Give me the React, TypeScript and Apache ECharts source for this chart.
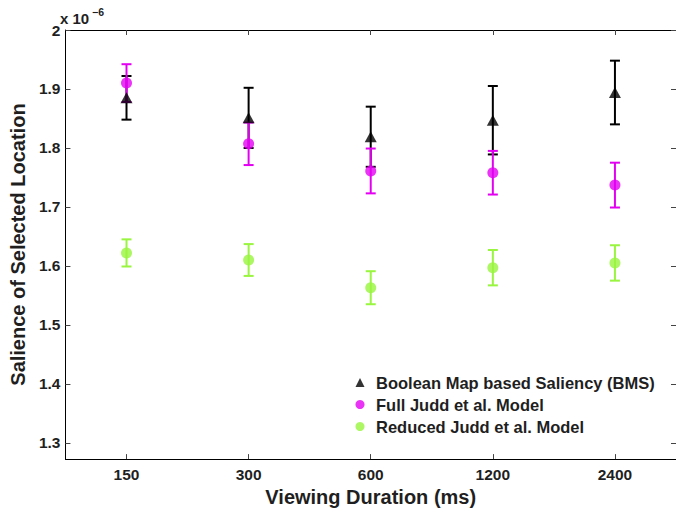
import React, { useEffect, useRef } from "react";
import * as echarts from "echarts";

const durations = ["150", "300", "600", "1200", "2400"];
const yTicks = [1.3, 1.4, 1.5, 1.6, 1.7, 1.8, 1.9, 2];

const bmsMean = [1.885, 1.851, 1.819, 1.847, 1.894];
const bmsErr = [0.037, 0.051, 0.051, 0.058, 0.054];
const fullMean = [1.91, 1.807, 1.761, 1.758, 1.737];
const fullErr = [0.032, 0.036, 0.038, 0.037, 0.038];
const reducedMean = [1.622, 1.61, 1.563, 1.597, 1.605];
const reducedErr = [0.023, 0.027, 0.028, 0.03, 0.03];

const seriesNames = [
  "Boolean Map based Saliency (BMS)",
  "Full Judd et al. Model",
  "Reduced Judd et al. Model",
];

const FONT = "'Liberation Sans', Arial, Helvetica, sans-serif";
const TEXT = "#1f1f1f";
const BLACK = "#000000";
const MAGENTA = "#e300f2";
const GREEN = "#99f53f";

function errData(mean: number[], err: number[]) {
  return mean.map((m, i) => [i, m - err[i], m + err[i]]);
}

function errSeries(name: string, mean: number[], err: number[], color: string) {
  return {
    name,
    type: "custom",
    data: errData(mean, err),
    encode: { x: 0, y: [1, 2] },
    renderItem: (_p: any, api: any) => {
      const x = api.value(0);
      const top = api.coord([x, api.value(2)]);
      const bot = api.coord([x, api.value(1)]);
      const hw = 5;
      const style = { stroke: color, lineWidth: 2 };
      return {
        type: "group",
        children: [
          { type: "line", shape: { x1: top[0], y1: top[1], x2: bot[0], y2: bot[1] }, style },
          { type: "line", shape: { x1: top[0] - hw, y1: top[1], x2: top[0] + hw, y2: top[1] }, style },
          { type: "line", shape: { x1: bot[0] - hw, y1: bot[1], x2: bot[0] + hw, y2: bot[1] }, style },
        ],
      };
    },
  };
}

export default function App() {
  const ref = useRef<HTMLDivElement>(null);
  useEffect(() => {
    if (!ref.current) return;
    const chart = echarts.init(ref.current, null, { renderer: "svg" });
    const tickStyle = { show: true, inside: true, length: 5, lineStyle: { color: "#444", width: 1 } };
    const option: any = {
      animation: false,
      backgroundColor: "#ffffff",
      textStyle: { fontFamily: FONT },
      grid: { left: 58, top: 30, width: 621, height: 440, containLabel: false },
      legend: {
        data: seriesNames,
        orient: "vertical",
        left: 355.5,
        top: 373.5,
        padding: 0,
        itemWidth: 9,
        itemHeight: 9,
        itemGap: 4,
        selectedMode: false,
        textStyle: {
          fontFamily: FONT,
          fontSize: 16.5,
          fontWeight: "bold",
          color: TEXT,
          lineHeight: 18,
          padding: [0, 0, 0, 6.5],
        },
      },
      xAxis: [
        {
          type: "category",
          data: durations,
          position: "bottom",
          boundaryGap: true,
          axisLine: { show: true, lineStyle: { color: BLACK, width: 1 } },
          axisTick: { ...tickStyle, alignWithLabel: true },
          axisLabel: { fontFamily: FONT, fontSize: 15.5, fontWeight: "bold", color: TEXT, margin: 7 },
          splitLine: { show: false },
          name: "Viewing Duration (ms)",
          nameLocation: "middle",
          nameGap: 21,
          nameTextStyle: { fontFamily: FONT, fontSize: 20, fontWeight: "bold", color: TEXT },
        },
        {
          type: "category",
          data: durations,
          position: "top",
          boundaryGap: true,
          axisLine: { show: true, lineStyle: { color: BLACK, width: 1 } },
          axisTick: { ...tickStyle, alignWithLabel: true },
          axisLabel: { show: false },
          splitLine: { show: false },
        },
      ],
      yAxis: [
        {
          type: "value",
          min: 1.2724,
          max: 2,
          position: "left",
          axisLine: { show: true, lineStyle: { color: BLACK, width: 1 } },
          axisTick: { ...tickStyle, customValues: yTicks },
          axisLabel: {
            customValues: yTicks,
            fontFamily: FONT,
            fontSize: 15.5,
            fontWeight: "bold",
            color: TEXT,
            margin: 5,
            formatter: (v: number) => String(Math.round(v * 10) / 10),
          },
          splitLine: { show: false },
          name: "Salience of Selected Location",
          nameLocation: "middle",
          nameGap: 28,
          nameTextStyle: { fontFamily: FONT, fontSize: 20, fontWeight: "bold", color: TEXT },
        },
        {
          type: "value",
          min: 1.2724,
          max: 2,
          position: "right",
          axisLine: { show: true, lineStyle: { color: BLACK, width: 1 } },
          axisTick: { ...tickStyle, customValues: yTicks },
          axisLabel: { show: false },
          splitLine: { show: false },
        },
      ],
      graphic: [
        {
          type: "text",
          left: 60,
          top: 11,
          style: { text: "x 10", fontFamily: FONT, fontSize: 15, fontWeight: "bold", fill: TEXT },
        },
        {
          type: "text",
          left: 92,
          top: 6,
          style: { text: "−6", fontFamily: FONT, fontSize: 10.5, fontWeight: "bold", fill: TEXT },
        },
      ],
      series: [
        errSeries("bmsErr", bmsMean, bmsErr, BLACK),
        {
          name: seriesNames[0],
          type: "scatter",
          data: bmsMean.map((v, i) => [i, v]),
          symbol: "triangle",
          symbolSize: [12, 11],
          itemStyle: { color: BLACK },
        },
        errSeries("fullErr", fullMean, fullErr, MAGENTA),
        {
          name: seriesNames[1],
          type: "scatter",
          data: fullMean.map((v, i) => [i, v]),
          symbol: "circle",
          symbolSize: 11,
          itemStyle: { color: MAGENTA },
        },
        errSeries("reducedErr", reducedMean, reducedErr, GREEN),
        {
          name: seriesNames[2],
          type: "scatter",
          data: reducedMean.map((v, i) => [i, v]),
          symbol: "circle",
          symbolSize: 11,
          itemStyle: { color: GREEN },
        },
      ],
    };
    chart.setOption(option);
    return () => chart.dispose();
  }, []);
  return (
    <div
      ref={ref}
      style={{ position: "fixed", left: 0, top: 0, width: 676, height: 512, background: "#fff" }}
    />
  );
}
